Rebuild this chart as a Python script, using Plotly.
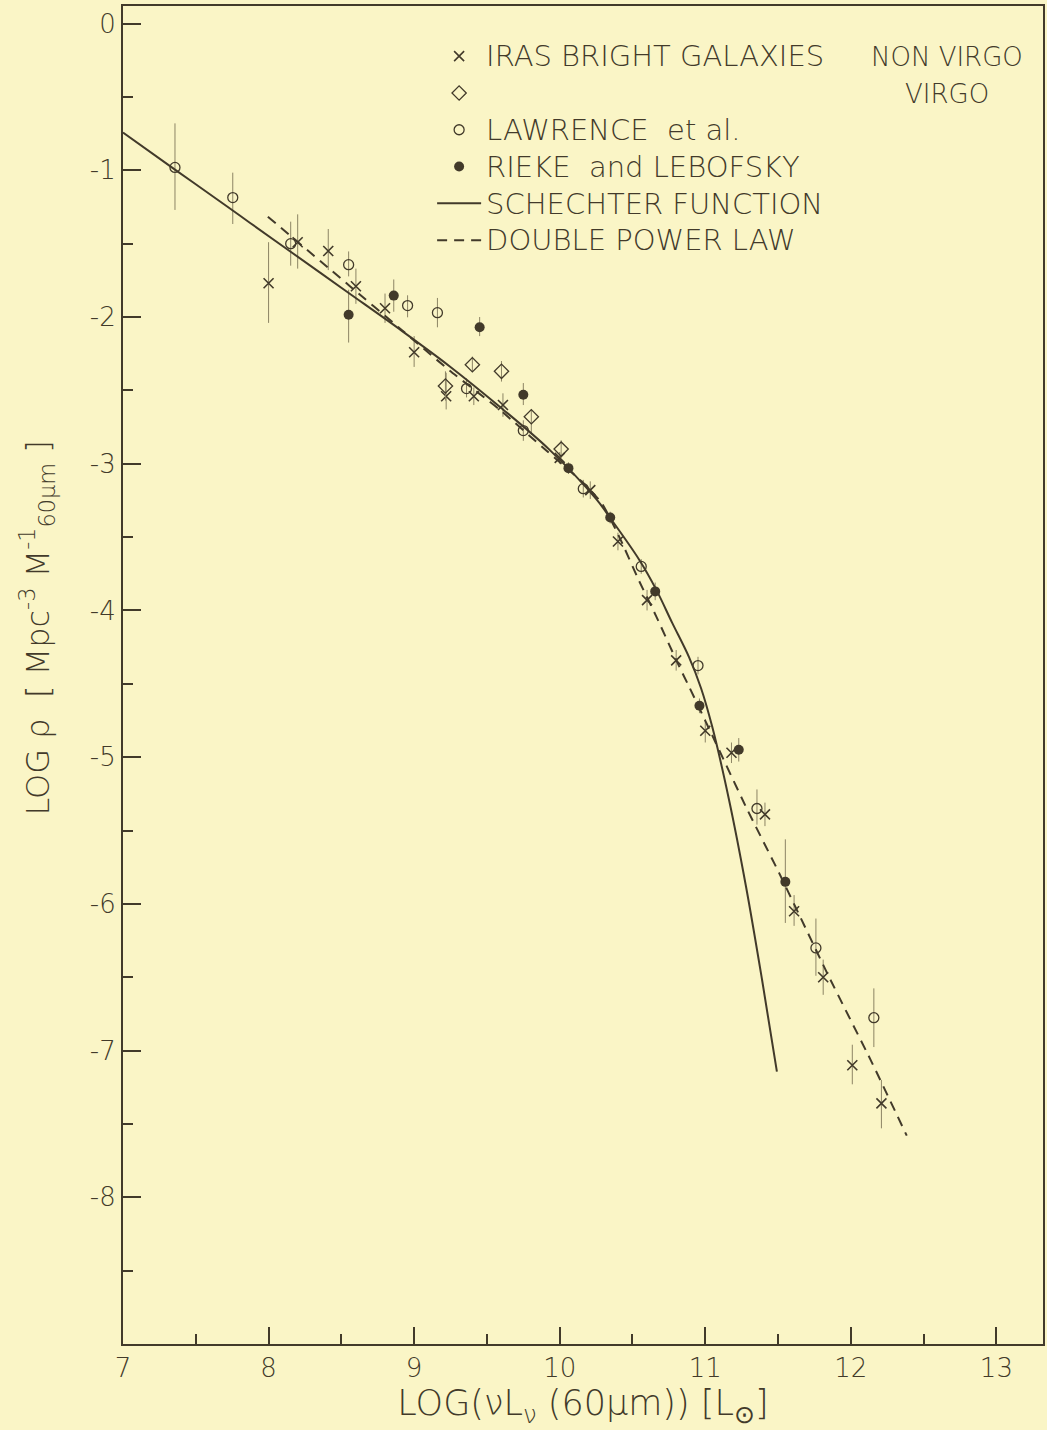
import plotly.graph_objects as go

# ---------------- data ----------------
# IRAS bright galaxies, non-Virgo (crosses)
iras_x = [8.00, 8.20, 8.41, 8.60, 8.80, 9.00, 9.22, 9.41, 9.61, 10.00, 10.21,
          10.40, 10.60, 10.80, 11.00, 11.18, 11.41, 11.61, 11.81, 12.01, 12.21]
iras_y = [-1.77, -1.49, -1.55, -1.79, -1.94, -2.24, -2.54, -2.54, -2.60, -2.96, -3.18,
          -3.53, -3.93, -4.34, -4.82, -4.97, -5.39, -6.05, -6.50, -7.10, -7.36]
iras_up = [0.28, 0.19, 0.15, 0.12, 0.10, 0.11, 0.16, 0.06, 0.08, 0.04, 0.06,
           0.06, 0.07, 0.07, 0.08, 0.07, 0.08, 0.11, 0.12, 0.14, 0.16]
iras_dn = [0.27, 0.18, 0.13, 0.12, 0.10, 0.10, 0.09, 0.06, 0.08, 0.04, 0.06,
           0.06, 0.07, 0.07, 0.08, 0.07, 0.08, 0.10, 0.12, 0.13, 0.17]

# IRAS bright galaxies, Virgo (diamonds)
virgo_x = [9.215, 9.40, 9.60, 9.805, 10.01]
virgo_y = [-2.47, -2.325, -2.37, -2.68, -2.90]
virgo_up = [0.10, 0.055, 0.07, 0.05, 0.06]
virgo_dn = [0.10, 0.05, 0.07, 0.12, 0.06]

# Lawrence et al. (open circles)
law_x = [7.357, 7.754, 8.152, 8.55, 8.955, 9.16, 9.36, 9.75, 10.162, 10.56,
         10.95, 11.355, 11.76, 12.158]
law_y = [-0.98, -1.186, -1.50, -1.643, -1.922, -1.97, -2.488, -2.774, -3.17, -3.70,
         -4.376, -5.35, -6.30, -6.776]
law_up = [0.30, 0.17, 0.15, 0.09, 0.07, 0.10, 0.07, 0.07, 0.06, 0.05,
          0.06, 0.13, 0.20, 0.20]
law_dn = [0.29, 0.18, 0.15, 0.08, 0.08, 0.10, 0.06, 0.07, 0.06, 0.05,
          0.06, 0.11, 0.19, 0.20]

# Rieke and Lebofsky (filled circles)
rl_x = [8.55, 8.86, 9.45, 9.75, 10.06, 10.347, 10.656, 10.96, 11.23, 11.55]
rl_y = [-1.984, -1.854, -2.07, -2.53, -3.03, -3.367, -3.87, -4.65, -4.95, -5.85]
rl_up = [0.17, 0.11, 0.07, 0.08, 0.04, 0.04, 0.06, 0.05, 0.08, 0.29]
rl_dn = [0.19, 0.11, 0.06, 0.07, 0.04, 0.04, 0.06, 0.05, 0.08, 0.28]

# Schechter function (solid curve)
sch_x = [7.00, 7.357, 7.713, 7.871, 8.125, 8.536, 8.90, 9.243, 9.586, 9.929, 10.25,
         10.347, 10.546, 10.663, 10.772, 10.889, 10.971, 11.047, 11.163, 11.28,
         11.39, 11.492]
sch_y = [-0.743, -0.995, -1.245, -1.357, -1.536, -1.826, -2.083, -2.335, -2.61, -2.904,
         -3.24, -3.37, -3.654, -3.858, -4.083, -4.32, -4.53, -4.79, -5.29, -5.883,
         -6.517, -7.144]

# Double power law (dashed curve)
dpl_x = [7.995, 8.557, 8.90, 9.243, 9.586, 9.908, 10.15, 10.29, 10.41, 10.546,
         10.663, 10.82, 10.889, 11.047, 11.28, 11.506, 11.643, 11.849, 12.144, 12.384]
dpl_y = [-1.316, -1.788, -2.076, -2.364, -2.63, -2.91, -3.12, -3.27, -3.50, -3.80,
         -4.04, -4.38, -4.52, -4.85, -5.34, -5.787, -6.07, -6.496, -7.08, -7.58]

x_ticks = [7, 8, 9, 10, 11, 12, 13]
x_ticklabels = ["7", "8", "9", "10", "11", "12", "13"]
y_ticks = [0, -1, -2, -3, -4, -5, -6, -7, -8]
y_ticklabels = ["0", "-1", "-2", "-3", "-4", "-5", "-6", "-7", "-8"]

legend_names = ["IRAS BRIGHT GALAXIES", " ", "LAWRENCE  et al.", "RIEKE  and LEBOFSKY",
                "SCHECHTER FUNCTION", "DOUBLE POWER LAW"]

# ---------------- styling ----------------
BG = "#FAF5C6"
INK = "#423A2A"
ERR = "#8C8464"
FONT = "DejaVu Sans"
W = 200

def err(up, dn):
    return dict(type="data", array=up, arrayminus=dn, symmetric=False,
                thickness=1, width=0, color=ERR)

def lname(s):
    return '<span style="font-size:29px">' + s + '</span>'

fig = go.Figure()

fig.add_trace(go.Scatter(
    x=iras_x, y=iras_y, mode="markers", name=lname(legend_names[0]),
    error_y=err(iras_up, iras_dn),
    marker=dict(symbol="x-thin", size=10, line=dict(width=1.6, color=INK), color=INK)))

fig.add_trace(go.Scatter(
    x=virgo_x, y=virgo_y, mode="markers", name=legend_names[1],
    error_y=err(virgo_up, virgo_dn),
    marker=dict(symbol="diamond-open", size=11, line=dict(width=1.3, color=INK), color=INK)))

fig.add_trace(go.Scatter(
    x=law_x, y=law_y, mode="markers", name=lname(legend_names[2]),
    error_y=err(law_up, law_dn),
    marker=dict(symbol="circle-open", size=10, line=dict(width=1.3, color=INK), color=INK)))

fig.add_trace(go.Scatter(
    x=rl_x, y=rl_y, mode="markers", name=lname(legend_names[3]),
    error_y=err(rl_up, rl_dn),
    marker=dict(symbol="circle", size=10, color=INK, line=dict(width=0))))

fig.add_trace(go.Scatter(
    x=sch_x, y=sch_y, mode="lines", name=lname(legend_names[4]),
    line=dict(color=INK, width=2, shape="spline", smoothing=1.0)))

fig.add_trace(go.Scatter(
    x=dpl_x, y=dpl_y, mode="lines", name=lname(legend_names[5]),
    line=dict(color=INK, width=2, dash="10px,7px", shape="spline", smoothing=0.5)))

fig.update_layout(
    width=1047, height=1430,
    margin=dict(l=123, r=2, t=6, b=86),
    paper_bgcolor=BG, plot_bgcolor=BG,
    font=dict(family=FONT, color=INK, size=26, weight=W),
    showlegend=True,
    legend=dict(x=0.336, y=0.980, xanchor="left", yanchor="top",
                bgcolor="rgba(0,0,0,0)", borderwidth=0,
                font=dict(family=FONT, size=26, color=INK, weight=W),
                itemwidth=44, traceorder="normal", tracegroupgap=0),
    xaxis=dict(range=[7, 13.32], tickmode="array", tickvals=x_ticks, ticktext=x_ticklabels,
               ticks="inside", ticklen=17, tickwidth=1.5, tickcolor=INK,
               minor=dict(dtick=0.5, tick0=7, ticks="inside", ticklen=10, tickwidth=1.5, tickcolor=INK),
               showline=True, linewidth=2, linecolor=INK, mirror=True,
               showgrid=False, zeroline=False,
               tickfont=dict(family=FONT, size=26, color=INK, weight=W),
               title=dict(text="LOG(νL<sub>ν</sub> (60μm)) [L<sub>⊙</sub>]",
                          font=dict(family=FONT, size=35, color=INK, weight=W), standoff=7)),
    yaxis=dict(range=[-9, 0.12], tickmode="array", tickvals=y_ticks, ticktext=y_ticklabels,
               ticks="inside", ticklen=18, tickwidth=1.5, tickcolor=INK,
               minor=dict(dtick=0.5, tick0=0, ticks="inside", ticklen=10, tickwidth=1.5, tickcolor=INK),
               showline=True, linewidth=2, linecolor=INK, mirror=True,
               showgrid=False, zeroline=False,
               tickfont=dict(family=FONT, size=26, color=INK, weight=W)),
    annotations=[
        dict(text="NON VIRGO", x=0.980, y=0.962, xref="paper", yref="paper",
             xanchor="right", yanchor="middle", showarrow=False,
             font=dict(family=FONT, size=26, color=INK, weight=W)),
        dict(text="VIRGO", x=0.943, y=0.934, xref="paper", yref="paper",
             xanchor="right", yanchor="middle", showarrow=False,
             font=dict(family=FONT, size=26, color=INK, weight=W)),
        dict(text="LOG ρ  [ Mpc<sup>-3</sup> M<sup>-1</sup><sub>60μm</sub> ]",
             x=-0.093, y=0.535, xref="paper", yref="paper", textangle=-90,
             xanchor="center", yanchor="middle", showarrow=False,
             font=dict(family=FONT, size=32, color=INK, weight=W)),
    ],
)

fig.write_html(
    "out.html",
    config={"displayModeBar": False},
    post_script="document.body.style.margin='0';document.body.style.background='" + BG + "';",
)
